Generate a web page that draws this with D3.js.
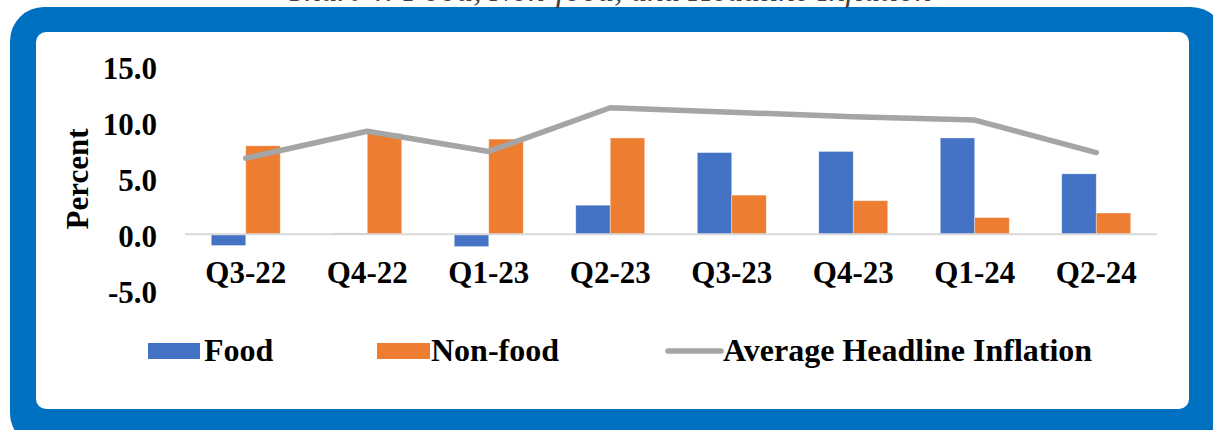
<!DOCTYPE html>
<html>
<head>
<meta charset="utf-8">
<script src="https://cdn.jsdelivr.net/npm/d3@7"></script>
<style>
  html, body { margin: 0; padding: 0; background: #fff; }
  svg { display: block; }
  text { font-family: "Liberation Serif", "Times New Roman", serif; }
</style>
</head>
<body>
<script>
// data
const quarters = ["Q3-22", "Q4-22", "Q1-23", "Q2-23", "Q3-23", "Q4-23", "Q1-24", "Q2-24"];
const food = [-1.0, 0.1, -1.1, 2.6, 7.3, 7.4, 8.6, 5.4];
const nonFood = [7.9, 9.0, 8.5, 8.6, 3.5, 3.0, 1.5, 1.9];
const headline = [6.8, 9.2, 7.4, 11.3, 10.9, 10.5, 10.2, 7.3];
const yTicks = [-5, 0, 5, 10, 15];
const seriesNames = ["Food", "Non-food", "Average Headline Inflation"];

const width = 1213, height = 430;
const blue = "#4472C4", orange = "#ED7D31", grey = "#A5A5A5";

const svg = d3.select("body").append("svg")
  .attr("width", width)
  .attr("height", height);

// frame: blue rounded border with white panel
svg.append("rect")
  .attr("x", 10).attr("y", 7)
  .attr("width", 1215).attr("height", 440)
  .attr("rx", 34).attr("ry", 34)
  .attr("fill", "#0070C0");

svg.append("rect")
  .attr("x", 36).attr("y", 32)
  .attr("width", 1153).attr("height", 377)
  .attr("rx", 10).attr("ry", 10)
  .attr("fill", "#fff");

// title, mostly cut off at the top edge (as in the source)
svg.append("text")
  .attr("x", 607).attr("y", 1)
  .attr("text-anchor", "middle")
  .attr("font-size", 33)
  .attr("font-style", "italic")
  .attr("fill", "#404040")
  .text("Chart 4: Food, Non-food, and Headline Inflation");

// scales
const x = d3.scaleBand()
  .domain(quarters)
  .range([185, 1157]);

const inner = d3.scaleBand()
  .domain(["food", "nonFood"])
  .range([0, 69]);

const y = d3.scaleLinear()
  .domain([-5, 15])
  .range([290.3, 66.3]);

const center = q => x(q) + x.bandwidth() / 2;

// y axis labels (plain hyphen for negatives)
const fmt = d3.format(".1f");
const yAxis = svg.append("g")
  .attr("transform", "translate(157,0)")
  .call(d3.axisLeft(y).tickValues(yTicks)
    .tickFormat(d => fmt(d).replace("\u2212", "-"))
    .tickSize(0).tickPadding(0));
yAxis.select(".domain").remove();
yAxis.selectAll("text")
  .attr("font-family", "'Liberation Serif', 'Times New Roman', serif")
  .attr("font-size", 31)
  .attr("font-weight", "bold")
  .attr("fill", "#000")
  .attr("dy", "0.38em");

svg.append("text")
  .attr("transform", "translate(88,179) rotate(-90)")
  .attr("text-anchor", "middle")
  .attr("font-size", 31)
  .attr("font-weight", "bold")
  .text("Percent");

// bars
const bars = svg.append("g");
quarters.forEach((q, i) => {
  const left = center(q) - 34.5;
  [["food", food[i], blue], ["nonFood", nonFood[i], orange]].forEach(([k, v, c]) => {
    bars.append("rect")
      .attr("x", left + inner(k))
      .attr("y", y(Math.max(0, v)))
      .attr("width", inner.bandwidth())
      .attr("height", Math.abs(y(v) - y(0)))
      .attr("fill", c)
      .attr("stroke", "#fff")
      .attr("stroke-opacity", 0.5)
      .attr("stroke-width", 0.75);
  });
});

// zero line
svg.append("line")
  .attr("x1", 185).attr("x2", 1157)
  .attr("y1", y(0)).attr("y2", y(0))
  .attr("stroke", "#D9D9D9")
  .attr("stroke-width", 2);

// headline line
const line = d3.line()
  .x((d, i) => center(quarters[i]))
  .y(d => y(d));

svg.append("path")
  .datum(headline)
  .attr("d", line)
  .attr("fill", "none")
  .attr("stroke", grey)
  .attr("stroke-width", 5.5)
  .attr("stroke-linecap", "round")
  .attr("stroke-linejoin", "round");

// category labels
const xAxis = svg.append("g")
  .attr("transform", "translate(0,283)");
xAxis.selectAll("text")
  .data(quarters)
  .join("text")
  .attr("x", d => center(d))
  .attr("text-anchor", "middle")
  .attr("font-size", 31)
  .attr("font-weight", "bold")
  .text(d => d);

// legend
const legend = svg.append("g");
legend.append("rect")
  .attr("x", 148).attr("y", 343).attr("width", 52).attr("height", 16)
  .attr("fill", blue);
legend.append("text")
  .attr("x", 204).attr("y", 361)
  .attr("font-size", 32).attr("font-weight", "bold")
  .text(seriesNames[0]);

legend.append("rect")
  .attr("x", 377).attr("y", 343).attr("width", 53).attr("height", 16)
  .attr("fill", orange);
legend.append("text")
  .attr("x", 431).attr("y", 361)
  .attr("font-size", 32).attr("font-weight", "bold")
  .text(seriesNames[1]);

legend.append("line")
  .attr("x1", 668).attr("x2", 721)
  .attr("y1", 351).attr("y2", 351)
  .attr("stroke", grey)
  .attr("stroke-width", 5.5)
  .attr("stroke-linecap", "round");
legend.append("text")
  .attr("x", 723).attr("y", 361)
  .attr("font-size", 32).attr("font-weight", "bold")
  .text(seriesNames[2]);
</script>
</body>
</html>
